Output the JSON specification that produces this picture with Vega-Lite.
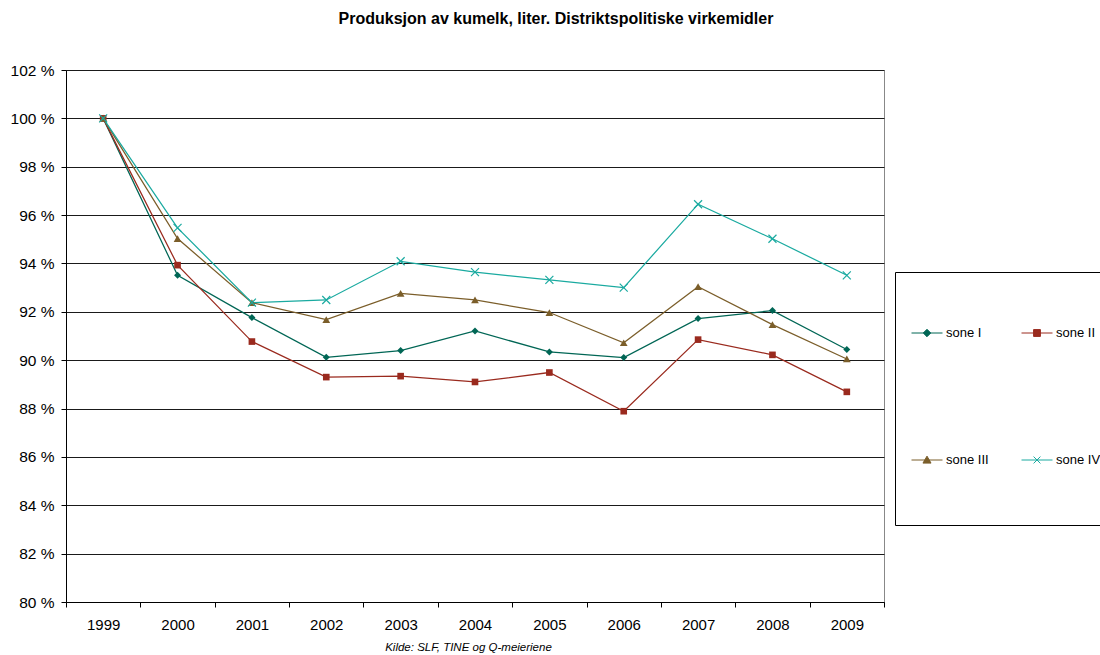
{
  "$schema": "https://vega.github.io/schema/vega-lite/v6.json",
  "width": 818,
  "height": 532,
  "autosize": {"type": "none"},
  "padding": {"left": 66, "top": 70, "right": 216, "bottom": 53},
  "background": "white",
  "config": {
    "font": "Liberation Sans",
    "view": {"stroke": "#888888", "strokeWidth": 1}
  },
  "title": {
    "text": "Produksjon av kumelk, liter. Distriktspolitiske virkemidler",
    "font": "Liberation Sans",
    "fontSize": 16,
    "fontWeight": "bold",
    "color": "black",
    "anchor": "middle",
    "frame": "group",
    "dx": 81,
    "offset": 36
  },
  "data": {
    "values": [
      {"year": "1999", "sone": "sone I", "value": 100.0},
      {"year": "2000", "sone": "sone I", "value": 93.51},
      {"year": "2001", "sone": "sone I", "value": 91.76},
      {"year": "2002", "sone": "sone I", "value": 90.12},
      {"year": "2003", "sone": "sone I", "value": 90.40},
      {"year": "2004", "sone": "sone I", "value": 91.21},
      {"year": "2005", "sone": "sone I", "value": 90.34},
      {"year": "2006", "sone": "sone I", "value": 90.11},
      {"year": "2007", "sone": "sone I", "value": 91.72},
      {"year": "2008", "sone": "sone I", "value": 92.05},
      {"year": "2009", "sone": "sone I", "value": 90.44},
      {"year": "1999", "sone": "sone II", "value": 100.0},
      {"year": "2000", "sone": "sone II", "value": 93.93},
      {"year": "2001", "sone": "sone II", "value": 90.77},
      {"year": "2002", "sone": "sone II", "value": 89.30},
      {"year": "2003", "sone": "sone II", "value": 89.34},
      {"year": "2004", "sone": "sone II", "value": 89.10},
      {"year": "2005", "sone": "sone II", "value": 89.49},
      {"year": "2006", "sone": "sone II", "value": 87.89},
      {"year": "2007", "sone": "sone II", "value": 90.85},
      {"year": "2008", "sone": "sone II", "value": 90.22},
      {"year": "2009", "sone": "sone II", "value": 88.69},
      {"year": "1999", "sone": "sone III", "value": 100.0},
      {"year": "2000", "sone": "sone III", "value": 95.03},
      {"year": "2001", "sone": "sone III", "value": 92.38},
      {"year": "2002", "sone": "sone III", "value": 91.68},
      {"year": "2003", "sone": "sone III", "value": 92.76},
      {"year": "2004", "sone": "sone III", "value": 92.49},
      {"year": "2005", "sone": "sone III", "value": 91.97},
      {"year": "2006", "sone": "sone III", "value": 90.72},
      {"year": "2007", "sone": "sone III", "value": 93.04},
      {"year": "2008", "sone": "sone III", "value": 91.47},
      {"year": "2009", "sone": "sone III", "value": 90.05},
      {"year": "1999", "sone": "sone IV", "value": 100.0},
      {"year": "2000", "sone": "sone IV", "value": 95.47},
      {"year": "2001", "sone": "sone IV", "value": 92.38},
      {"year": "2002", "sone": "sone IV", "value": 92.49},
      {"year": "2003", "sone": "sone IV", "value": 94.09},
      {"year": "2004", "sone": "sone IV", "value": 93.64},
      {"year": "2005", "sone": "sone IV", "value": 93.32},
      {"year": "2006", "sone": "sone IV", "value": 93.00},
      {"year": "2007", "sone": "sone IV", "value": 96.45},
      {"year": "2008", "sone": "sone IV", "value": 95.02},
      {"year": "2009", "sone": "sone IV", "value": 93.51}
    ]
  },
  "encoding": {
    "x": {
      "field": "year",
      "type": "ordinal",
      "scale": {"type": "band", "paddingInner": 0, "paddingOuter": 0},
      "axis": {
        "title": "Kilde: SLF, TINE og Q-meieriene",
        "titleFont": "Liberation Sans",
        "titleFontSize": 11.5,
        "titleFontStyle": "italic",
        "titleFontWeight": "normal",
        "titleColor": "black",
        "titleX": 402,
        "titlePadding": 9,
        "labelAngle": 0,
        "labelFontSize": 15,
        "labelColor": "black",
        "labelPadding": 10,
        "tickBand": "extent",
        "tickSize": 5,
        "tickColor": "black",
        "domainColor": "black",
        "grid": false
      }
    },
    "y": {
      "field": "value",
      "type": "quantitative",
      "scale": {"domain": [80, 102], "nice": false, "zero": false},
      "axis": {
        "title": null,
        "values": [80, 82, 84, 86, 88, 90, 92, 94, 96, 98, 100, 102],
        "labelExpr": "datum.value + ' %'",
        "labelFontSize": 15.5,
        "labelColor": "black",
        "labelPadding": 7,
        "tickSize": 5,
        "tickColor": "black",
        "domainColor": "black",
        "grid": true,
        "gridColor": "#1a1a1a",
        "gridWidth": 1
      }
    },
    "color": {
      "field": "sone",
      "type": "nominal",
      "scale": {
        "domain": ["sone I", "sone II", "sone III", "sone IV"],
        "range": ["#006655", "#9A2A1E", "#7B5E2A", "#1AAAA0"]
      }
    }
  },
  "layer": [
    {
      "mark": {"type": "line", "strokeWidth": 1.25},
      "encoding": {
        "color": {
          "field": "sone",
          "type": "nominal",
          "legend": {
            "title": " ",
            "titleFontSize": 10,
            "titlePadding": 19,
            "orient": "none",
            "legendX": 829,
            "legendY": 202,
            "direction": "horizontal",
            "columns": 2,
            "columnPadding": 30,
            "rowPadding": 104,
            "padding": 16,
            "strokeColor": "black",
            "fillColor": "white",
            "symbolSize": 961,
            "symbolStrokeWidth": 1,
            "labelFontSize": 13,
            "labelColor": "black",
            "labelOffset": 3,
            "encode": {
              "symbols": {
                "update": {
                  "shape": {"signal": "datum.value === 'sone I' ? 'M-1,0H1M0,-0.24L0.24,0L0,0.24L-0.24,0Z' : datum.value === 'sone II' ? 'M-1,0H1M-0.22,-0.22H0.22V0.22H-0.22Z' : datum.value === 'sone III' ? 'M-1,0H1M0,-0.25L0.26,0.2H-0.26ZM0,3.0' : 'M-1,0H1M-0.22,-0.22L0.22,0.22M-0.22,0.22L0.22,-0.22M0,3.0'"},
                  "fill": {"signal": "datum.value === 'sone IV' ? 'transparent' : scale('color', datum.value)"},
                  "stroke": {"signal": "scale('color', datum.value)"},
                  "strokeWidth": {"value": 1},
                  "opacity": {"value": 1}
                }
              }
            }
          }
        }
      }
    },
    {
      "transform": [{"filter": "datum.sone === 'sone I'"}],
      "mark": {"type": "point", "shape": "diamond", "filled": true, "size": 49, "opacity": 1},
      "encoding": {"color": {"field": "sone", "type": "nominal", "legend": null}}
    },
    {
      "transform": [{"filter": "datum.sone === 'sone II'"}],
      "mark": {"type": "point", "shape": "square", "filled": true, "size": 44, "opacity": 1},
      "encoding": {"color": {"field": "sone", "type": "nominal", "legend": null}}
    },
    {
      "transform": [{"filter": "datum.sone === 'sone III'"}],
      "mark": {"type": "point", "shape": "triangle-up", "filled": true, "size": 60, "opacity": 1},
      "encoding": {"color": {"field": "sone", "type": "nominal", "legend": null}}
    },
    {
      "transform": [{"filter": "datum.sone === 'sone IV'"}],
      "mark": {"type": "point", "shape": "M-1,-1L1,1M-1,1L1,-1", "filled": false, "size": 64, "strokeWidth": 1.2, "opacity": 1},
      "encoding": {"color": {"field": "sone", "type": "nominal", "legend": null}}
    }
  ]
}
